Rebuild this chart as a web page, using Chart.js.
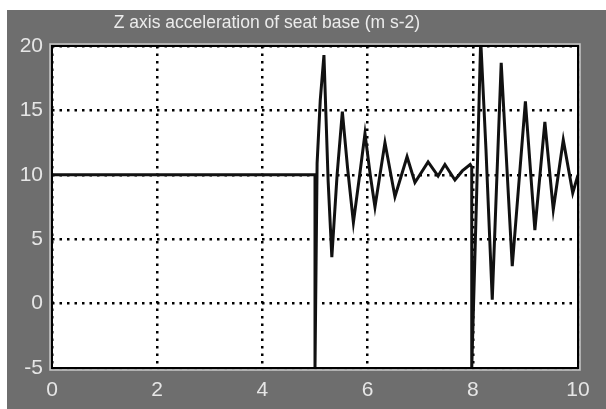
<!DOCTYPE html>
<html>
<head>
<meta charset="utf-8">
<script src="https://cdn.jsdelivr.net/npm/chart.js@4"></script>
<style>
  html, body { margin: 0; padding: 0; background: #fff; }
  #wrap { width: 606px; height: 409px; }
</style>
</head>
<body>
<div id="wrap"><canvas id="myChart" width="606" height="409"></canvas></div>
<script>
// values
var titleText = 'Z axis acceleration of seat base (m s-2)';
var xTicks = [0, 2, 4, 6, 8, 10];
var yTicks = [-5, 0, 5, 10, 15, 20];
var time = [0, 5.0, 5.0, 5.04, 5.1, 5.17, 5.25, 5.32, 5.42, 5.52, 5.62, 5.73, 5.85, 5.95,
  6.05, 6.14, 6.33, 6.52, 6.75, 6.9, 7.15, 7.34, 7.47, 7.66, 7.8, 7.95, 7.98, 7.98,
  8.07, 8.15, 8.25, 8.37, 8.54, 8.75, 9.0, 9.18, 9.37, 9.53, 9.72, 9.9, 10];
var accel = [10, 10, -5, 10.9, 15.8, 19.3, 9.5, 3.6, 10, 14.9, 10.5, 6.3, 10, 13.2,
  10, 7.5, 12.5, 8.3, 11.4, 9.4, 11.0, 9.9, 10.8, 9.6, 10.3, 10.8, 10.6, -5,
  8, 20.5, 12, 0.3, 18.7, 2.9, 15.7, 5.7, 14.1, 7.3, 12.7, 8.6, 10];

var points = time.map(function (t, i) { return { x: t, y: accel[i] }; });

var scopeLook = {
  id: 'scopeLook',
  beforeDraw: function (chart) {
    var c = chart.ctx;
    c.save();
    c.fillStyle = '#fff';
    c.fillRect(0, 0, chart.width, chart.height);
    c.fillStyle = '#6e6e6e';
    c.fillRect(7, 10, chart.width - 7, chart.height - 10);
    var a = chart.chartArea;
    c.fillStyle = '#fff';
    c.fillRect(a.left, a.top, a.right - a.left, a.bottom - a.top);
    c.fillStyle = '#ececec';
    c.font = '17.5px "Liberation Sans", Arial, sans-serif';
    c.textAlign = 'center';
    c.textBaseline = 'middle';
    c.fillText(titleText, 267, 23);
    c.restore();
  },
  afterDatasetsDraw: function (chart) {
    var c = chart.ctx;
    var a = chart.chartArea;
    c.save();
    c.strokeStyle = '#c8c8c8';
    c.lineWidth = 1.5;
    c.strokeRect(a.left - 2, a.top - 2, a.right - a.left + 4, a.bottom - a.top + 4);
    c.strokeStyle = '#000';
    c.lineWidth = 2;
    c.strokeRect(a.left, a.top, a.right - a.left, a.bottom - a.top);
    c.restore();
  }
};

var ctx = document.getElementById('myChart').getContext('2d');
var chart = new Chart(ctx, {
  type: 'line',
  data: {
    datasets: [
      {
        data: points,
        borderColor: '#111',
        borderWidth: 3,
        pointRadius: 0,
        tension: 0,
      },
    ],
  },
  options: {
    responsive: false,
    animation: false,
    layout: { padding: { left: 0, top: 46, right: 28, bottom: 0 } },
    plugins: { legend: { display: false }, tooltip: { enabled: false } },
    scales: {
      x: {
        type: 'linear',
        min: 0,
        max: 10,
        afterBuildTicks: function (s) { s.ticks = xTicks.map(function (v) { return { value: v }; }); },
        afterFit: function (s) { s.height = 41; },
        ticks: { color: '#e6e6e6', padding: 10, font: { family: '"Liberation Sans", Arial', size: 21 } },
        grid: { color: '#000', lineWidth: 2.5, drawTicks: false },
        border: { display: false, dash: [2.5, 5] },
      },
      y: {
        min: -5,
        max: 20,
        afterBuildTicks: function (s) { s.ticks = yTicks.map(function (v) { return { value: v }; }); },
        afterFit: function (s) { s.width = 52; },
        ticks: { color: '#e6e6e6', padding: 9, font: { family: '"Liberation Sans", Arial', size: 21 } },
        grid: { color: '#000', lineWidth: 2.5, drawTicks: false },
        border: { display: false, dash: [2.5, 5] },
      },
    },
  },
  plugins: [scopeLook],
});
</script>
</body>
</html>
